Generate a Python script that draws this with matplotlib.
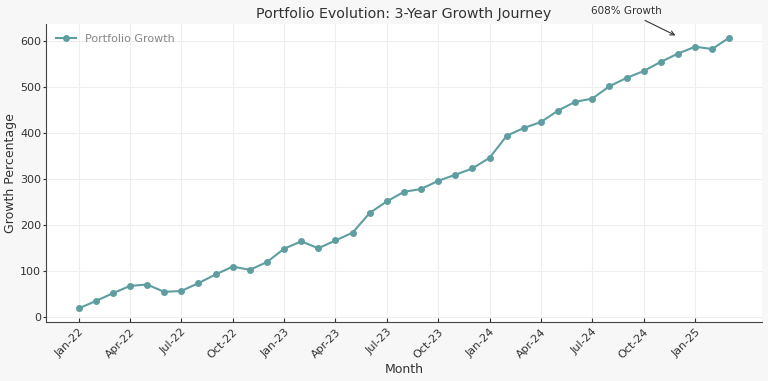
import matplotlib
matplotlib.use("Agg")
import matplotlib.pyplot as plt
import pandas as pd

# monthly portfolio growth (%), Jan-22 .. Mar-25
months = pd.date_range("2022-01-01", "2025-03-01", freq="MS").strftime("%b-%y").tolist()
growth = [18, 34, 51, 67, 70, 54, 56, 73, 92, 109, 102, 119,
          148, 164, 149, 166, 183, 226, 251, 272, 278, 296, 309, 323,
          346, 394, 411, 424, 449, 468, 475, 502, 520, 535, 555, 573,
          588, 583, 608]
final_label = "608% Growth"

line_color = "#5f9ea0"
text_color = "#333333"

fig, ax = plt.subplots(figsize=(7.68, 3.81), dpi=100)
fig.patch.set_facecolor("#f7f7f7")
ax.set_facecolor("white")

x = list(range(len(months)))
ax.plot(x, growth, marker="o", markersize=4, linewidth=1.5,
        color=line_color, label="Portfolio Growth")

ax.annotate(final_label, xy=(35, 610), xytext=(32, 665),
            ha="center", va="center", fontsize=7.5, color=text_color,
            arrowprops=dict(arrowstyle="->", color=text_color, lw=0.8),
            annotation_clip=False)

ax.set_title("Portfolio Evolution: 3-Year Growth Journey", fontsize=10.3, color=text_color, pad=4)
ax.set_xlabel("Month", fontsize=9, color=text_color, labelpad=2)
ax.set_ylabel("Growth Percentage", fontsize=9, color=text_color, labelpad=2)

ax.set_xticks(x[::3])
ax.set_xticklabels(months[::3], rotation=45, ha="right", rotation_mode="anchor")
ax.tick_params(labelsize=8, colors=text_color)
ax.tick_params(axis="x", direction="in", length=3)
ax.tick_params(axis="y", direction="out", length=2, pad=1.5)

ax.grid(True, color="#eeeeee", linewidth=0.8)
ax.spines["top"].set_visible(False)
ax.spines["right"].set_visible(False)
for s in ("left", "bottom"):
    ax.spines[s].set_color("#444444")

leg = ax.legend(loc="upper left", frameon=False, fontsize=8, handlelength=1.8)
for t in leg.get_texts():
    t.set_color("#888888")

fig.subplots_adjust(left=0.06, right=0.992, top=0.937, bottom=0.155)
fig.savefig("out.png", facecolor=fig.get_facecolor())
